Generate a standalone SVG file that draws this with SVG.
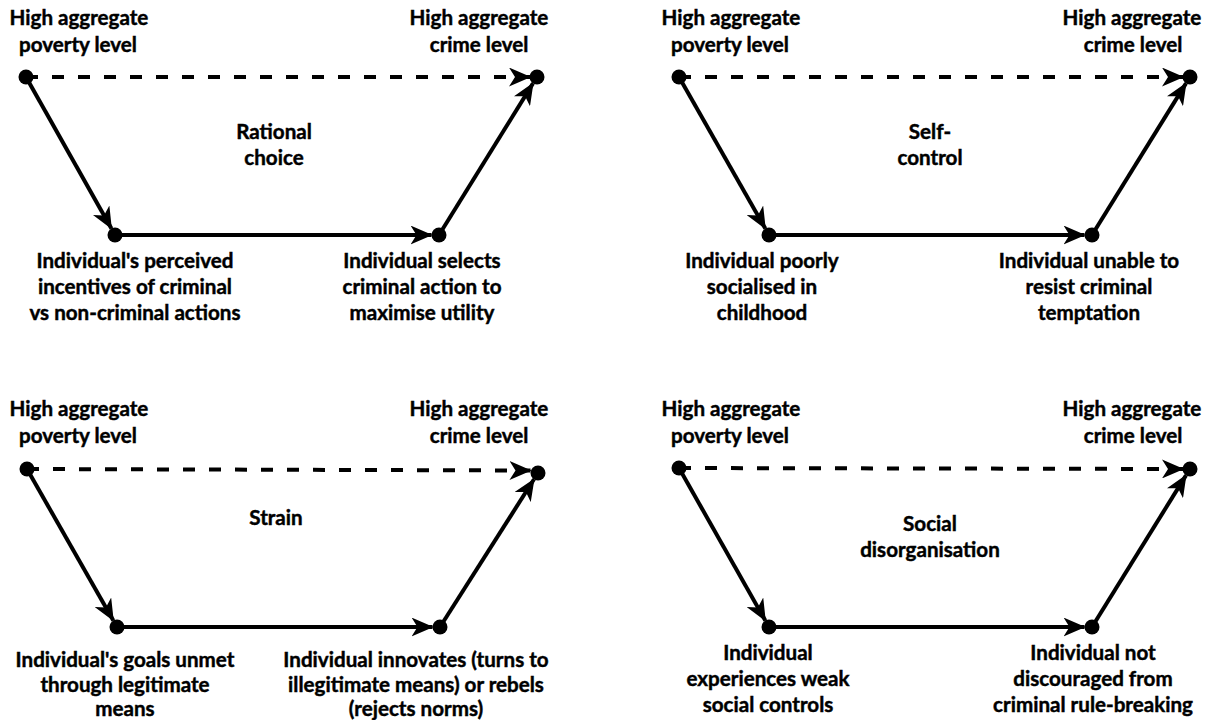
<svg xmlns="http://www.w3.org/2000/svg" width="1215" height="720" viewBox="0 0 1215 720">
<style>
text{font-family:Lato,"Liberation Sans",sans-serif;font-weight:bold;font-size:20.6px;fill:#000;stroke:#000;stroke-width:0.45;text-anchor:middle}
.ln{stroke:#000;stroke-width:4;fill:none;marker-end:url(#ah)}
.dash{stroke-dasharray:12,14}
.dot{fill:#000}
</style>
<defs>
<marker id="ah" markerUnits="userSpaceOnUse" markerWidth="23" markerHeight="19" refX="21" refY="9.5" orient="auto" viewBox="0 0 23 19"><path d="M0,0 L22,9.5 L0,19 L6,9.5 z" fill="#000"/></marker>
</defs>
<rect width="1215" height="720" fill="#fff"/>
<g id="connectors">
<line class="ln dash" x1="26" y1="77" x2="530" y2="77"/>
<line class="ln" x1="26" y1="77" x2="111.4" y2="228.5"/>
<line class="ln" x1="115" y1="235" x2="431.5" y2="235"/>
<line class="ln" x1="439" y1="235" x2="533" y2="83.4"/>
<line class="ln dash" x1="679" y1="77" x2="1183" y2="77"/>
<line class="ln" x1="679" y1="77" x2="765.3" y2="228.5"/>
<line class="ln" x1="769" y1="235" x2="1084.5" y2="235"/>
<line class="ln" x1="1092" y1="235" x2="1186" y2="83.4"/>
<line class="ln dash" x1="27" y1="469" x2="530.5" y2="470.5"/>
<line class="ln" x1="27" y1="469" x2="113.3" y2="620.5"/>
<line class="ln" x1="117" y1="627" x2="432.5" y2="627"/>
<line class="ln" x1="440" y1="627" x2="534" y2="479.3"/>
<line class="ln dash" x1="679" y1="468" x2="1183" y2="469"/>
<line class="ln" x1="679" y1="468" x2="765.3" y2="620.5"/>
<line class="ln" x1="769" y1="627" x2="1084.5" y2="627"/>
<line class="ln" x1="1092" y1="627" x2="1186" y2="475.4"/>
</g>
<g id="rc-poverty"><circle class="dot" cx="26" cy="77" r="7.5"/><text x="79" y="25">High aggregate</text><text x="78" y="52">poverty level</text></g>
<g id="rc-crime"><circle class="dot" cx="537" cy="77" r="7.5"/><text x="479" y="25">High aggregate</text><text x="479" y="52">crime level</text></g>
<g id="rc-title"><text x="274" y="139">Rational</text><text x="274" y="165">choice</text></g>
<g id="rc-incentives"><circle class="dot" cx="115" cy="235" r="7.5"/><text x="135" y="268">Individual's perceived</text><text x="135" y="294">incentives of criminal</text><text x="135" y="320">vs non-criminal actions</text></g>
<g id="rc-selects"><circle class="dot" cx="439" cy="235" r="7.5"/><text x="422" y="268">Individual selects</text><text x="422" y="294">criminal action to</text><text x="422" y="320">maximise utility</text></g>

<g id="sc-poverty"><circle class="dot" cx="679" cy="77" r="7.5"/><text x="731" y="25">High aggregate</text><text x="730" y="52">poverty level</text></g>
<g id="sc-crime"><circle class="dot" cx="1190" cy="77" r="7.5"/><text x="1132" y="25">High aggregate</text><text x="1133" y="52">crime level</text></g>
<g id="sc-title"><text x="930" y="139">Self-</text><text x="930" y="165">control</text></g>
<g id="sc-socialised"><circle class="dot" cx="769" cy="235" r="7.5"/><text x="762" y="268">Individual poorly</text><text x="762" y="294">socialised in</text><text x="762" y="320">childhood</text></g>
<g id="sc-unable"><circle class="dot" cx="1092" cy="235" r="7.5"/><text x="1089" y="268">Individual unable to</text><text x="1089" y="294">resist criminal</text><text x="1089" y="320">temptation</text></g>

<g id="st-poverty"><circle class="dot" cx="27" cy="469" r="7.5"/><text x="79" y="416">High aggregate</text><text x="78" y="443">poverty level</text></g>
<g id="st-crime"><circle class="dot" cx="538" cy="473" r="7.5"/><text x="479" y="416">High aggregate</text><text x="479" y="443">crime level</text></g>
<g id="st-title"><text x="276" y="525">Strain</text></g>
<g id="st-goals"><circle class="dot" cx="117" cy="627" r="7.5"/><text x="125" y="667">Individual's goals unmet</text><text x="125" y="692">through legitimate</text><text x="125" y="716">means</text></g>
<g id="st-innovates"><circle class="dot" cx="440" cy="627" r="7.5"/><text x="416" y="667">Individual innovates (turns to</text><text x="416" y="692">illegitimate means) or rebels</text><text x="416" y="716">(rejects norms)</text></g>

<g id="sd-poverty"><circle class="dot" cx="679" cy="468" r="7.5"/><text x="731" y="416">High aggregate</text><text x="730" y="443">poverty level</text></g>
<g id="sd-crime"><circle class="dot" cx="1190" cy="469" r="7.5"/><text x="1132" y="416">High aggregate</text><text x="1133" y="443">crime level</text></g>
<g id="sd-title"><text x="930" y="531">Social</text><text x="930" y="557">disorganisation</text></g>
<g id="sd-controls"><circle class="dot" cx="769" cy="627" r="7.5"/><text x="768" y="660">Individual</text><text x="768" y="686">experiences weak</text><text x="768" y="712">social controls</text></g>
<g id="sd-discouraged"><circle class="dot" cx="1092" cy="627" r="7.5"/><text x="1093" y="660">Individual not</text><text x="1093" y="686">discouraged from</text><text x="1093" y="712">criminal rule-breaking</text></g>
</svg>
